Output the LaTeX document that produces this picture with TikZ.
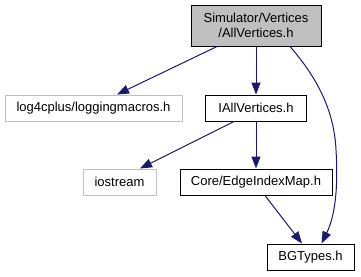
\documentclass[tikz,border=0pt]{standalone}
\usepackage{fontspec}
\setmainfont{Liberation Sans}
\usetikzlibrary{arrows.meta}
\definecolor{edgeblue}{HTML}{191970}
\definecolor{extgray}{HTML}{BFBFBF}
\begin{document}
\begin{tikzpicture}[x=1pt,y=-1pt,
  box/.style={draw=black,line width=1pt,fill=white,inner sep=0pt,
    font=\fontsize{13}{15}\selectfont,align=center},
  extbox/.style={box,draw=extgray},
  dep/.style={draw=edgeblue,line width=1pt,
    -{Triangle[length=12pt,width=9pt]}}]
  \useasboundingbox (0,0) rectangle (361,276);
  % file nodes
  \node[box,fill=extgray,minimum width=130pt,minimum height=41pt] (top) at (256,25.5)
    {Simulator/Vertices\\/AllVertices.h};
  \node[extbox,minimum width=177pt,minimum height=26pt] (log) at (93.5,108) {log4cplus/loggingmacros.h};
  \node[box,minimum width=101pt,minimum height=26pt] (iall) at (256,108) {IAllVertices.h};
  \node[extbox,minimum width=73pt,minimum height=26pt] (io) at (119.5,182) {iostream};
  \node[box,minimum width=152pt,minimum height=26pt] (edge) at (256,182) {Core/EdgeIndexMap.h};
  \node[box,minimum width=87pt,minimum height=26pt] (bg) at (310.5,257) {BGTypes.h};
  % include edges
  \draw[dep] ([xshift=-39pt]top.south) -- ([xshift=23.5pt]log.north);
  \draw[dep] (top.south) -- (iall.north);
  \draw[dep] ([xshift=-22pt]iall.south) -- ([xshift=20.5pt]io.north);
  \draw[dep] (iall.south) -- (edge.north);
  \draw[dep] ([xshift=9pt]edge.south) -- ([xshift=-8.5pt]bg.north);
  \draw[dep] ([xshift=34pt]top.south) .. controls (312,72) and (334,105) .. (336,150)
    .. controls (339,200) and (332,222) .. ([xshift=11pt]bg.north);
\end{tikzpicture}
\end{document}
